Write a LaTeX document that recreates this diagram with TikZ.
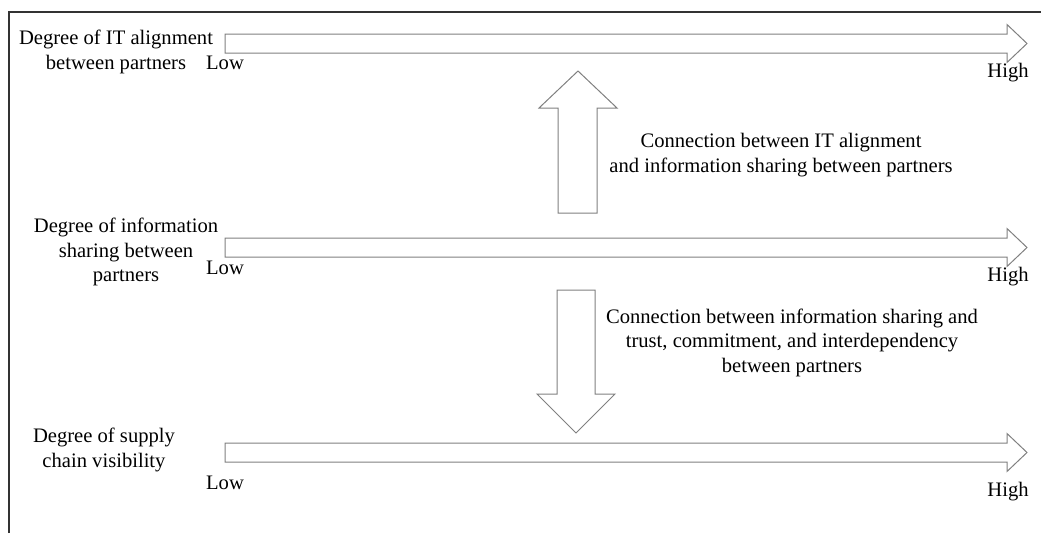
\documentclass[tikz,border=0pt]{standalone}
\usepackage{fontspec}
\setmainfont{Liberation Serif}
\begin{document}
\begin{tikzpicture}[x=1pt,y=-1pt,
  blockarrow/.style={draw=black!50, line width=1pt, fill=white, line join=miter},
  frameline/.style={draw=black!80, line width=1.3pt},
  lbl/.style={inner sep=0pt, align=center, font=\fontsize{20.6}{24.5}\selectfont},
  endlbl/.style={inner sep=0pt, font=\fontsize{20.6}{24.5}\selectfont}]
\useasboundingbox (0,0) rectangle (1041,533);

% partial frame
\draw[frameline] (9,533) -- (9,12) -- (1041,12);

% horizontal scales: shaft y-range, head y-range
\foreach \c in {43.5,247.5,452.5}{
  \draw[blockarrow] (225,\c-9.5) -- (1007,\c-9.5) -- (1007,\c-19) -- (1027,\c)
     -- (1007,\c+19) -- (1007,\c+9.5) -- (225,\c+9.5) -- cycle;
}

% vertical connection arrows
\draw[blockarrow] (558,213) -- (558,108) -- (539,108) -- (578,71) -- (617,108)
   -- (597,108) -- (597,213) -- cycle;
\draw[blockarrow] (557,290) -- (557,394) -- (537,394) -- (576,433) -- (615,394)
   -- (595,394) -- (595,290) -- cycle;

% scale titles
\node[lbl] (t1) at (116,52) {Degree of IT alignment\\between partners};
\node[lbl] (t2) at (126,252) {Degree of information\\sharing between\\partners};
\node[lbl] (t3) at (104,450) {Degree of supply\\chain visibility};

% scale ends
\node[endlbl] (l1) at (225,63) {Low};
\node[endlbl] (h1) at (1008,73) {High};
\node[endlbl] (l2) at (225,268) {Low};
\node[endlbl] (h2) at (1008,277) {High};
\node[endlbl] (l3) at (225,483) {Low};
\node[endlbl] (h3) at (1008,492) {High};

% connection descriptions
\node[lbl] (c1) at (781,155) {Connection between IT alignment\\and information sharing between partners};
\node[lbl] (c2) at (792,342.5) {Connection between information sharing and\\trust, commitment, and interdependency\\between partners};
\end{tikzpicture}
\end{document}
